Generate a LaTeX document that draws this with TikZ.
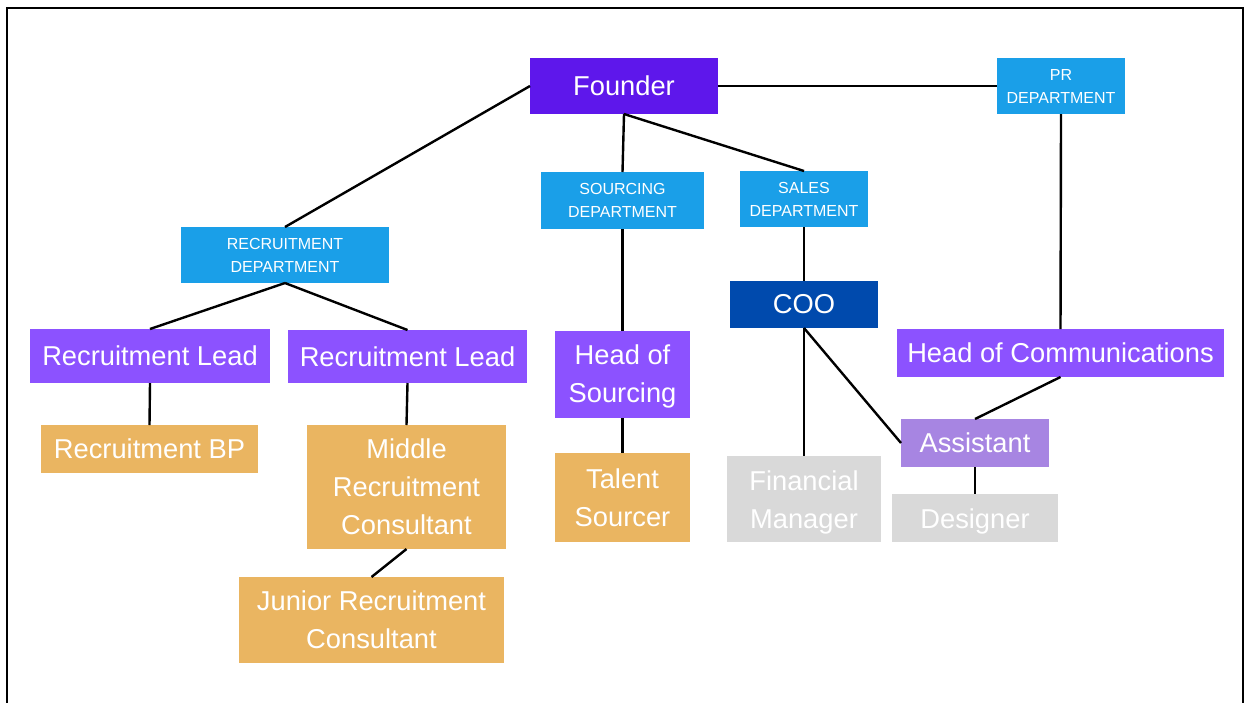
\documentclass[tikz,border=0pt]{standalone}
\usepackage{fontspec}
\setmainfont{Liberation Sans}
\definecolor{founderc}{HTML}{5E17EB}
\definecolor{deptc}{HTML}{1A9FE8}
\definecolor{leadc}{HTML}{8C52FF}
\definecolor{cooc}{HTML}{004AAD}
\definecolor{staffc}{HTML}{EAB561}
\definecolor{asstc}{HTML}{A785E2}
\definecolor{greyc}{HTML}{D9D9D9}
\begin{document}
\begin{tikzpicture}[x=1pt,y=-1pt,
  box/.style={rectangle,inner sep=0pt,outer sep=0pt,text=white,align=center},
  big/.style={box,font=\fontsize{27.3}{38}\selectfont},
  dept/.style={box,fill=deptc,font=\fontsize{16}{23}\selectfont},
  link/.style={line width=2.4pt,black}]
\useasboundingbox (0,0) rectangle (1246,702);
\fill[white] (0,0) rectangle (1246,702);
% outer frame (open at the bottom edge of the page)
\draw[line width=2pt] (7,704) -- (7,8) -- (1243,8) -- (1243,704);

% top level
\node[big,fill=founderc,minimum width=188pt,minimum height=56pt] (founder) at (624,86) {Founder};
\node[dept,minimum width=128pt,minimum height=56pt] (pr) at (1061,86) {PR\\DEPARTMENT};

% departments
\node[dept,minimum width=163pt,minimum height=57pt] (src) at (622.5,200.5) {SOURCING\\DEPARTMENT};
\node[dept,minimum width=128pt,minimum height=56pt] (sales) at (804,199) {SALES\\DEPARTMENT};
\node[dept,minimum width=208pt,minimum height=56pt] (rec) at (285,255) {RECRUITMENT\\DEPARTMENT};

% leads
\node[big,fill=leadc,minimum width=240pt,minimum height=54pt] (rl1) at (150,356) {Recruitment Lead};
\node[big,fill=leadc,minimum width=239pt,minimum height=53pt] (rl2) at (407.5,356.5) {Recruitment Lead};
\node[big,fill=leadc,minimum width=135pt,minimum height=87pt] (hos) at (622.5,374.5) {};
\node[big] at (622.5,376.5) {Head of\\Sourcing};
\node[big,fill=cooc,minimum width=148pt,minimum height=47pt] (coo) at (804,304.5) {COO};
\node[big,fill=leadc,minimum width=327pt,minimum height=48pt] (hoc) at (1060.5,353) {Head of Communications};

% staff
\node[big,fill=staffc,minimum width=217pt,minimum height=48pt] (rbp) at (149.5,449) {Recruitment BP};
\node[big,fill=staffc,minimum width=199pt,minimum height=124pt] (mrc) at (406.5,487) {Middle\\Recruitment\\Consultant};
\node[big,fill=staffc,minimum width=265pt,minimum height=86pt] (jrc) at (371.5,620) {Junior Recruitment\\Consultant};
\node[big,fill=staffc,minimum width=135pt,minimum height=89pt] (ts) at (622.5,497.5) {Talent\\Sourcer};
\node[big,fill=greyc,minimum width=154pt,minimum height=86pt] (fm) at (804,499) {};
\node[big] at (804,502) {Financial\\Manager};
\node[big,fill=asstc,minimum width=148pt,minimum height=48pt] (asst) at (975,443) {Assistant};
\node[big,fill=greyc,minimum width=166pt,minimum height=48pt] (des) at (975,518) {};
\node[big] at (975,521) {Designer};

% reporting lines
\draw[link] (founder.west) -- (rec.north);
\draw[link] (founder.east) -- (pr.west);
\draw[link] (founder.south) -- (src.north);
\draw[link] (founder.south) -- (sales.north);
\draw[link] (pr.south) -- (hoc.north);
\draw[link] (rec.south) -- (rl1.north);
\draw[link] (rec.south) -- (rl2.north);
\draw[link] (rl1.south) -- (rbp.north);
\draw[link] (rl2.south) -- (mrc.north);
\draw[link] (mrc.south) -- (jrc.north);
\draw[link] (src.south) -- (hos.north);
\draw[link] (hos.south) -- (ts.north);
\draw[link] (sales.south) -- (coo.north);
\draw[link] (coo.south) -- (fm.north);
\draw[link] (coo.south) -- (asst.west);
\draw[link] (hoc.south) -- (asst.north);
\draw[link] (asst.south) -- (des.north);
\end{tikzpicture}
\end{document}
